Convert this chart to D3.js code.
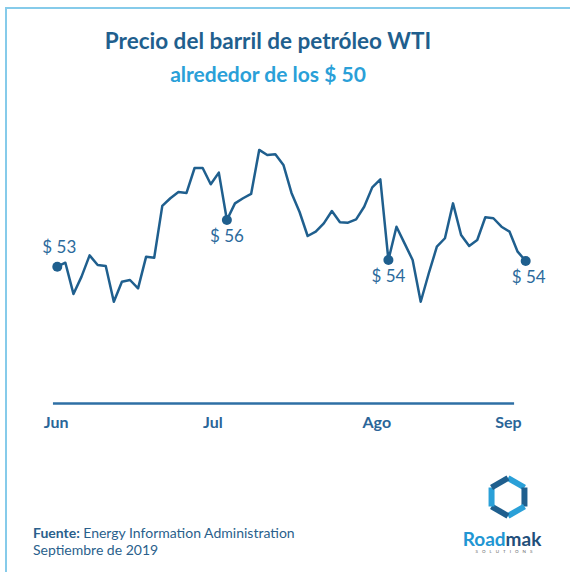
<!DOCTYPE html>
<html>
<head>
<meta charset="utf-8">
<script src="https://cdn.jsdelivr.net/npm/d3@7"></script>
<style>
  html, body { margin: 0; padding: 0; background: #fff; }
  svg { display: block; font-family: Lato, "Open Sans", sans-serif; }
</style>
</head>
<body>
<script>
// Precio WTI (USD/barril), un punto por sesión
const precios = [
  53.33, 53.58, 51.63, 52.71, 54.04, 53.44, 53.38, 51.14, 52.39, 52.50,
  51.98, 53.96, 53.89, 57.13, 57.61, 58.00, 57.94, 59.50, 59.50, 58.48,
  59.21, 56.25, 57.29, 57.61, 57.88, 60.63, 60.31, 60.36, 59.69, 57.94,
  56.75, 55.25, 55.52, 56.04, 56.81, 56.11, 56.08, 56.29, 57.08, 58.29,
  58.79, 53.75, 55.83, 54.79, 53.75, 51.14, 52.92, 54.58, 55.11, 57.29,
  55.31, 54.63, 55.00, 56.42, 56.36, 55.83, 55.52, 54.27, 53.69
];

// puntos destacados y sus etiquetas
const destacados = [0, 21, 41, 58],
  destacadosTexto = ["$ 53", "$ 56", "$ 54", "$ 54"];

// meses del eje (posición en sesiones)
const meses = ["Jun", "Jul", "Ago", "Sep"],
  mesesPos = [-0.2, 19.2, 39.5, 55.8];

const titulo = "Precio del barril de petróleo WTI",
  subtitulo = "alrededor de los $ 50";

const W = 570, H = 572;
const azul = "#1f5f8e", celeste = "#2aa0d8";

let svg = d3.select("body")
  .append("svg")
  .attr("width", W)
  .attr("height", H);

// marco
svg.append("path")
  .attr("d", "M6," + H + "V8H" + W)
  .attr("fill", "none")
  .attr("stroke", "#86cbea")
  .attr("stroke-width", 2);

// títulos
svg.append("text")
  .attr("x", 268).attr("y", 49)
  .attr("text-anchor", "middle")
  .attr("font-size", 22.5).attr("font-weight", "bold")
  .attr("fill", azul)
  .text(titulo);
svg.append("text")
  .attr("x", 268).attr("y", 82)
  .attr("text-anchor", "middle")
  .attr("font-size", 21).attr("font-weight", "bold")
  .attr("fill", celeste)
  .text(subtitulo);

// escalas
let x = d3.scaleLinear()
  .domain([0, precios.length - 1])
  .range([57.3, 525.7]),
  y = d3.scaleLinear()
    .domain([50, 61])
    .range([320, 144]);

// eje X (sólo la línea y los meses)
let ejeX = d3.scaleLinear()
  .domain([-0.6, 56.5])
  .range([x(-0.6), x(56.5)]);

let eje = svg.append("g")
  .attr("transform", "translate(0, 403)")
  .call(d3.axisBottom(ejeX)
    .tickValues(mesesPos)
    .tickFormat((_, i) => meses[i])
    .tickSize(0)
    .tickPadding(14));
eje.select(".domain")
  .attr("stroke", "#2e6fa5")
  .attr("stroke-width", 2.5);
eje.selectAll("text")
  .attr("font-family", "Lato, sans-serif")
  .attr("font-size", 16)
  .attr("font-weight", "bold")
  .attr("fill", "#2a6598");

// línea de precios
let linea = d3.line()
  .x((d, i) => x(i))
  .y(d => y(d));

svg.append("path")
  .datum(precios)
  .attr("fill", "none")
  .attr("stroke", azul)
  .attr("stroke-width", 2.5)
  .attr("stroke-linejoin", "round")
  .attr("d", linea);

// puntos destacados
svg.selectAll("circle.dest")
  .data(destacados)
  .join("circle")
  .attr("class", "dest")
  .attr("cx", d => x(d))
  .attr("cy", d => y(precios[d]))
  .attr("r", 5)
  .attr("fill", azul);

svg.selectAll("text.dest")
  .data(destacados)
  .join("text")
  .attr("class", "dest")
  .attr("x", (d, i) => x(d) + (i === 0 ? 2 : i === 3 ? 3 : 0))
  .attr("y", (d, i) => y(precios[d]) + (i === 0 ? -14 : 22))
  .attr("text-anchor", "middle")
  .attr("font-size", 17)
  .attr("fill", "#2c6a9c")
  .text((_, i) => destacadosTexto[i]);

// fuente
let fuente = svg.append("text")
  .attr("x", 33).attr("y", 538)
  .attr("font-size", 14)
  .attr("fill", "#2a5f8c");
fuente.append("tspan").attr("font-weight", "bold").text("Fuente: ");
fuente.append("tspan").text("Energy Information Administration");
svg.append("text")
  .attr("x", 33).attr("y", 555)
  .attr("font-size", 14)
  .attr("fill", "#2a5f8c")
  .text("Septiembre de 2019");

// logo Roadmak
let logo = svg.append("g").attr("transform", "translate(508, 497)");
let hex = d3.range(6).map(k => {
  let a = Math.PI / 180 * (60 * k - 90);
  return [19 * Math.cos(a), 19 * Math.sin(a)];
});
hex.forEach((p, k) => {
  let q = hex[(k + 1) % 6];
  logo.append("line")
    .attr("x1", p[0]).attr("y1", p[1])
    .attr("x2", q[0]).attr("y2", q[1])
    .attr("stroke", k % 2 ? "#1f5f8e" : "#2aa0d8")
    .attr("stroke-width", 6)
    .attr("stroke-linecap", "butt");
});
let marca = svg.append("text")
  .attr("x", 502).attr("y", 546)
  .attr("text-anchor", "middle")
  .attr("font-size", 19)
  .attr("font-weight", "bold");
marca.append("tspan").attr("fill", "#2196d3").text("Road");
marca.append("tspan").attr("fill", "#1f4f7a").text("mak");
svg.append("text")
  .attr("x", 506).attr("y", 553)
  .attr("text-anchor", "middle")
  .attr("font-size", 4.5)
  .attr("letter-spacing", 4)
  .attr("fill", "#666")
  .text("SOLUTIONS");
</script>
</body>
</html>
